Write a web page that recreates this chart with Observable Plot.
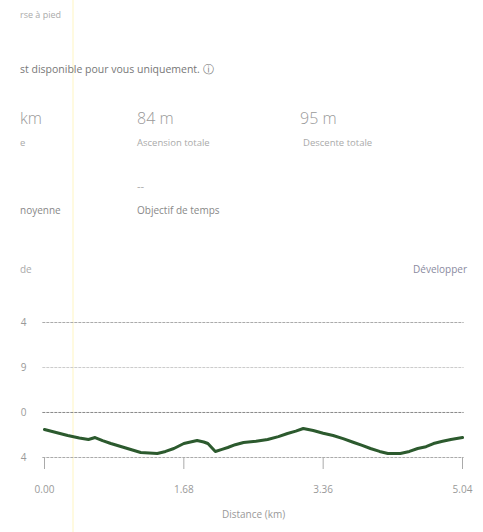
<!DOCTYPE html>
<html>
<head>
<meta charset="utf-8">
<script src="https://cdn.jsdelivr.net/npm/d3@7"></script>
<script src="https://cdn.jsdelivr.net/npm/@observablehq/plot@0.6"></script>
<style>
  html, body { margin: 0; padding: 0; background: #fff; width: 483px; height: 532px; overflow: hidden; }
  body { position: relative; font-family: "Open Sans", sans-serif; color: #999; }
  .t { position: absolute; white-space: nowrap; line-height: 1; }
  #chart { position: absolute; left: 0; top: 300px; }
  #hl { position: absolute; left: 72px; top: 0; width: 2px; height: 532px; background: #fffae0; }
</style>
</head>
<body>
<div id="hl"></div>
<div class="t" style="left:20px;top:10px;font-size:9px;color:#aaa">rse à pied</div>
<div class="t" style="left:20px;top:64px;font-size:10.5px;color:#777">st disponible pour vous uniquement. ⓘ</div>
<div class="t" style="left:20px;top:110px;font-size:16px;font-weight:300;color:#999">km</div>
<div class="t" style="left:137px;top:110px;font-size:16px;font-weight:300;color:#999">84 m</div>
<div class="t" style="left:300px;top:110px;font-size:16px;font-weight:300;color:#999">95 m</div>
<div class="t" style="left:20px;top:138px;font-size:9.5px;color:#aaa">e</div>
<div class="t" style="left:137px;top:138px;font-size:9.5px;color:#aaa">Ascension totale</div>
<div class="t" style="left:303px;top:138px;font-size:9.5px;color:#aaa">Descente totale</div>
<div class="t" style="left:137px;top:180px;font-size:11px;color:#aaa">--</div>
<div class="t" style="left:20px;top:205px;font-size:10px;color:#888">noyenne</div>
<div class="t" style="left:137px;top:205px;font-size:10px;color:#888">Objectif de temps</div>
<div class="t" style="left:20px;top:264px;font-size:10px;color:#aaa">de</div>
<div class="t" style="right:16px;top:264px;font-size:10px;color:#8a8aa0">Développer</div>
<div id="chart"></div>
<script>
// distance (km) and elevation (m)
const distance = [0, 0.14, 0.28, 0.42, 0.53, 0.61, 0.70, 0.80, 0.98, 1.16, 1.36, 1.46, 1.56, 1.68, 1.84, 1.92, 1.97, 2.06, 2.14, 2.21, 2.30, 2.40, 2.55, 2.69, 2.82, 2.93, 3.03, 3.12, 3.24, 3.36, 3.48, 3.60, 3.73, 3.83, 3.93, 4.04, 4.14, 4.29, 4.40, 4.50, 4.60, 4.69, 4.80, 4.90, 5.04];
const elevation = [58.15, 57.70, 57.26, 56.90, 56.67, 56.96, 56.50, 56.07, 55.40, 54.74, 54.59, 54.90, 55.33, 56.07, 56.52, 56.30, 56.07, 54.89, 55.20, 55.48, 55.90, 56.22, 56.40, 56.67, 57.10, 57.56, 57.90, 58.30, 58.00, 57.60, 57.26, 56.80, 56.22, 55.80, 55.33, 54.90, 54.59, 54.59, 54.90, 55.33, 55.60, 56.07, 56.40, 56.67, 56.96];
const xTicks = [0, 1.68, 3.36, 5.04];
const xTickLabels = ["0.00", "1.68", "3.36", "5.04"];
const yTicks = [54, 60.67, 67.33, 74];
const yTickLabels = ["4", "0", "9", "4"];
const gridColors = ["#aaa", "#888", "#ccc", "#aaa"];

const data = distance.map((d, i) => ({distance: d, elevation: elevation[i]}));
const grid = yTicks.map((v, i) => ({v, c: gridColors[i]}));

const chart = Plot.plot({
  width: 483,
  height: 232,
  marginLeft: 44,
  marginRight: 21,
  marginTop: 22,
  marginBottom: 75,
  style: {fontFamily: "Open Sans, sans-serif", fontSize: "9px", color: "#999", background: "transparent"},
  x: {domain: [0, 5.04]},
  y: {domain: [54, 74]},
  marks: [
    Plot.ruleY(grid, {y: "v", stroke: "c", strokeWidth: 1, strokeDasharray: "3,1", x1: -0.02, x2: 5.06}),
    Plot.axisX({ticks: xTicks, tickFormat: (d, i) => xTickLabels[i], tickSize: 12, tickPadding: 16, stroke: "#aaa", label: "Distance (km)", labelArrow: "none", labelAnchor: "center", labelOffset: 60, fontSize: 10, color: "#999"}),
    Plot.axisY({ticks: yTicks, tickFormat: (d, i) => yTickLabels[i], tickSize: 0, tickPadding: 18, label: null, fontSize: 10}),
    Plot.line(data, {x: "distance", y: "elevation", stroke: "#2c5a2e", strokeWidth: 3, curve: "linear"})
  ]
});
document.getElementById("chart").appendChild(chart);
</script>
</body>
</html>
